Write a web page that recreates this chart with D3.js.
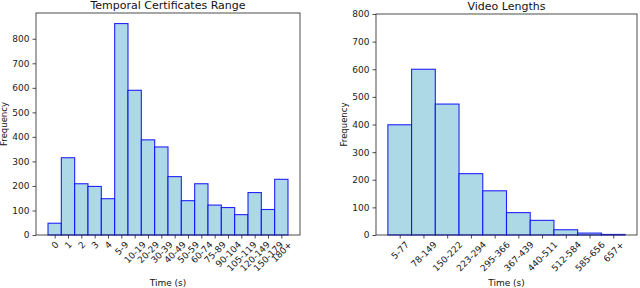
<!DOCTYPE html>
<html>
<head>
<meta charset="utf-8">
<script src="https://cdn.jsdelivr.net/npm/d3@7"></script>
<style>
  body { margin: 0; background: #fff; }
  svg { display: block; font-family: "DejaVu Sans", sans-serif; }
</style>
</head>
<body>
<svg id="chart" width="640" height="288"></svg>
<script>
// temporal certificate ranges
const certBins = ["0", "1", "2", "3", "4", "5-9", "10-19", "20-29", "30-39", "40-49",
  "50-59", "60-74", "75-89", "90-104", "105-119", "120-149", "150-179", "180+"];
const certCounts = [48, 315, 209, 198, 148, 862, 590, 388, 359, 238,
  140, 209, 122, 112, 83, 173, 104, 227];

// video lengths
const videoBins = ["5-77", "78-149", "150-222", "223-294", "295-366", "367-439",
  "440-511", "512-584", "585-656", "657+"];
const videoCounts = [399, 600, 474, 222, 160, 81, 53, 19, 7, 2];

const yTicks = [0, 100, 200, 300, 400, 500, 600, 700, 800];

const svg = d3.select("#chart");

function drawPanel(opts) {
  const { left, right, top, bottom, bins, counts, yMax, title } = opts;
  const width = right - left;
  const height = bottom - top;
  const g = svg.append("g").attr("transform", `translate(${left},${top})`);

  // bars fill 90% of the axis (5% margin on each side)
  const n = bins.length;
  const x = d3.scaleLinear().domain([-0.5 - n * 0.05, n - 0.5 + n * 0.05]).range([0, width]);
  const y = d3.scaleLinear().domain([0, yMax]).range([height, 0]);

  g.selectAll("rect.bar")
    .data(counts)
    .enter()
    .append("rect")
    .attr("class", "bar")
    .attr("x", (d, i) => x(i - 0.5))
    .attr("width", x(1) - x(0))
    .attr("y", (d) => y(d))
    .attr("height", (d) => y(0) - y(d))
    .attr("fill", "#add8e6")
    .attr("stroke", "blue")
    .attr("stroke-opacity", 0.85)
    .attr("stroke-width", 1.1);

  // y axis
  const yAxis = g.append("g").call(
    d3.axisLeft(y).tickValues(yTicks.filter((t) => t <= yMax)).tickSize(3.5).tickPadding(3)
  );
  yAxis.select(".domain").remove();
  yAxis.selectAll("text").attr("font-size", 9).attr("fill", "#222").attr("font-family", "DejaVu Sans");
  yAxis.selectAll("line").attr("stroke", "#222").attr("stroke-width", 0.8);

  // x axis with rotated labels
  const xAxis = g.append("g").attr("transform", `translate(0,${height})`).call(
    d3.axisBottom(x).tickValues(d3.range(n)).tickFormat((i) => bins[i]).tickSize(3.5)
  );
  xAxis.select(".domain").remove();
  xAxis.selectAll("line").attr("stroke", "#222").attr("stroke-width", 0.8);
  xAxis.selectAll("text").each(function () {
    const t = d3.select(this)
      .attr("font-size", 9)
      .attr("font-family", "DejaVu Sans")
      .attr("fill", "#222")
      .attr("y", 0)
      .attr("dy", null)
      .attr("text-anchor", "middle")
      .attr("dominant-baseline", "central");
    const w = this.getComputedTextLength();
    const h = 9 * 1.0;
    const half = (w + h) / Math.SQRT2 / 2;
    t.attr("transform", `translate(0,${5 + half}) rotate(-45)`);
  });

  // frame
  g.append("rect")
    .attr("width", width)
    .attr("height", height)
    .attr("fill", "none")
    .attr("stroke", "#222")
    .attr("stroke-width", 0.8);

  g.append("text")
    .attr("x", width / 2)
    .attr("y", -4)
    .attr("text-anchor", "middle")
    .attr("font-size", 11)
    .attr("fill", "#111")
    .text(title);

  g.append("text")
    .attr("x", width / 2)
    .attr("y", height + 51)
    .attr("text-anchor", "middle")
    .attr("font-size", 9)
    .attr("fill", "#111")
    .text("Time (s)");

  g.append("text")
    .attr("transform", `translate(${opts.ylabelX - left},${height / 2}) rotate(-90)`)
    .attr("text-anchor", "middle")
    .attr("font-size", 8.5)
    .attr("fill", "#111")
    .text("Frequency");
}

drawPanel({
  left: 36, right: 300, top: 13, bottom: 235,
  bins: certBins, counts: certCounts,
  yMax: d3.max(certCounts) * 1.05,
  title: "Temporal Certificates Range",
  ylabelX: 7
});

drawPanel({
  left: 376, right: 637, top: 14, bottom: 235,
  bins: videoBins, counts: videoCounts,
  yMax: 800,
  title: "Video Lengths",
  ylabelX: 347
});
</script>
</body>
</html>
